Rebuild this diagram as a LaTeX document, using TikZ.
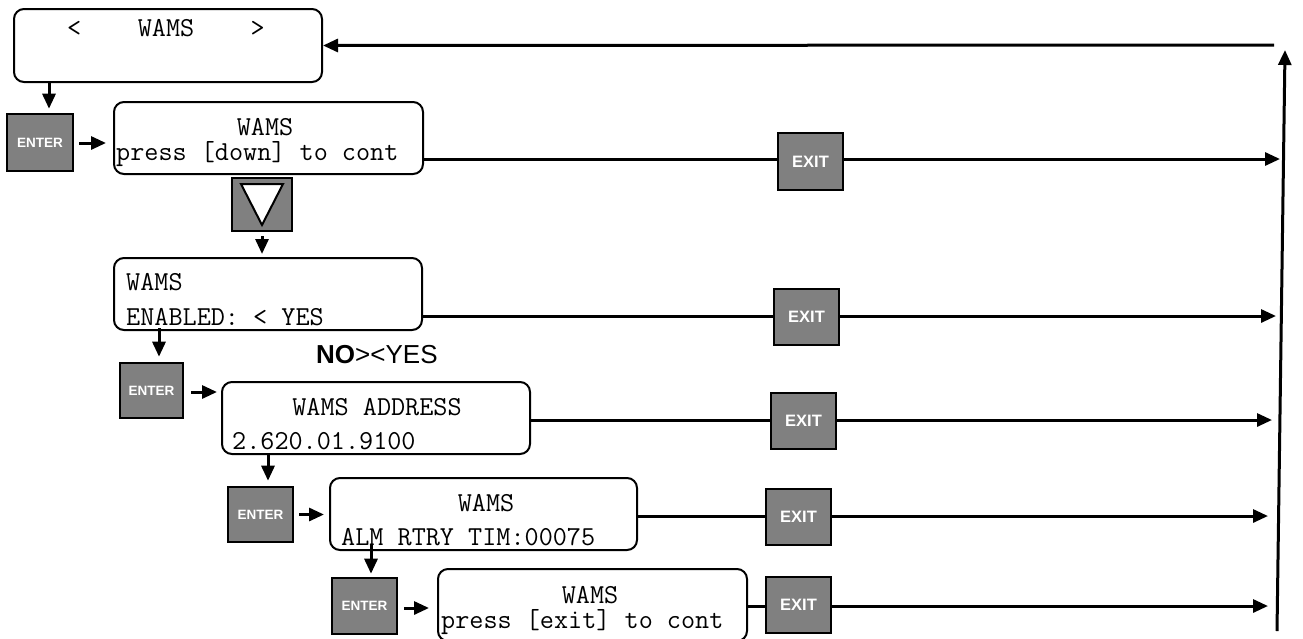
\documentclass[tikz,border=0pt]{standalone}
\usepackage{fontspec}
\setmainfont{Liberation Sans}
\usetikzlibrary{arrows.meta}
\definecolor{btngray}{HTML}{808080}
\begin{document}
\begin{tikzpicture}[x=1pt,y=-1pt,
  lcd/.style={draw, line width=2pt, rounded corners=10pt, inner sep=0pt},
  btn/.style={draw, line width=2.6pt, fill=btngray, inner sep=0pt, text=white},
  enterbtn/.style={btn, font=\fontsize{13.5}{13.5}\selectfont\bfseries},
  exitbtn/.style={btn, font=\fontsize{16.5}{16.5}\selectfont\bfseries},
  mono/.style={font=\fontsize{27.4}{27.4}\selectfont\ttfamily, inner sep=0pt},
  ln/.style={line width=3pt},
  arr/.style={line width=3pt, -{Triangle[length=15pt,width=13pt]}}
]
\useasboundingbox (0,0) rectangle (1303,638);

% LCD boxes
\node[lcd, minimum width=308pt, minimum height=73pt] (box1) at (168,45.5) {};
\node[lcd, minimum width=309pt, minimum height=72pt] (box2) at (268.5,138) {};
\node[lcd, minimum width=308pt, minimum height=72pt] (box3) at (268,294) {};
\node[lcd, minimum width=308pt, minimum height=72pt] (box4) at (376,418) {};
\node[lcd, minimum width=307pt, minimum height=72pt] (box5) at (483.5,514) {};
\node[lcd, minimum width=309pt, minimum height=72pt] (box6) at (592.5,605) {};

% texts
\node[mono, anchor=base] (t1) at (166,36) {<\ \ \ \ WAMS\ \ \ \ >};
\node[mono, anchor=base] (t2a) at (265,135) {WAMS};
\node[mono, anchor=base west] (t2b) at (116,160) {press [down] to cont};
\node[mono, anchor=base west] (t3a) at (126,290) {WAMS};
\node[mono, anchor=base west] (t3b) at (126,325) {ENABLED: < YES};
\node[mono, anchor=base] (t4a) at (377,415) {WAMS ADDRESS};
\node[mono, anchor=base west] (t4b) at (232,449) {2.620.01.9100};
\node[mono, anchor=base] (t5a) at (486,511) {WAMS};
\node[mono, anchor=base west] (t5b) at (341,545) {ALM RTRY TIM:00075};
\node[mono, anchor=base] (t6a) at (590,603) {WAMS};
\node[mono, anchor=base west] (t6b) at (441,628) {press [exit] to cont};
\node[inner sep=0pt, anchor=base west, font=\fontsize{26}{26}\selectfont] (noyes) at (316,363) {\textbf{NO}><YES};

% buttons
\node[enterbtn, minimum width=66pt, minimum height=57pt] (enter1) at (40,142.5) {ENTER};
\node[exitbtn, minimum width=65pt, minimum height=57pt] (exit2) at (810.5,161.5) {EXIT};
\node[btn, minimum width=60pt, minimum height=53pt] (down) at (262,204.5) {};
\draw[line width=2pt, fill=white] ([shift={(-21,-20.5)}]down.center) -- ([shift={(21,-20.5)}]down.center) -- ([shift={(0,20.5)}]down.center) -- cycle;
\node[exitbtn, minimum width=65pt, minimum height=56pt] (exit3) at (806.5,317) {EXIT};
\node[enterbtn, minimum width=63pt, minimum height=55pt] (enter3) at (151.5,390.5) {ENTER};
\node[exitbtn, minimum width=65pt, minimum height=56pt] (exit4) at (803.5,421) {EXIT};
\node[enterbtn, minimum width=65pt, minimum height=55pt] (enter4) at (260.5,514.5) {ENTER};
\node[exitbtn, minimum width=65pt, minimum height=56pt] (exit5) at (798.5,517) {EXIT};
\node[enterbtn, minimum width=65pt, minimum height=56pt] (enter5) at (364.5,606) {ENTER};
\node[exitbtn, minimum width=65pt, minimum height=56pt] (exit6) at (798.5,605) {EXIT};

% right side coordinates
\coordinate (r2) at (1280,159);
\coordinate (r3) at (1276,316);
\coordinate (r4) at (1272,420);
\coordinate (r5) at (1268,516);
\coordinate (r6) at (1268,606);
\coordinate (vb) at (1277,631);
\coordinate (vt) at (1285,50);
\coordinate (topstart) at (1274,45);

% vertical return and top arrow
\draw[arr] (vb) -- (vt);
\draw[arr] (topstart) -- (box1.east);

% downward / entering arrows
\draw[arr, shorten >=4pt] ([xshift=9pt]enter1.north |- box1.south) -- ([xshift=9pt]enter1.north);
\draw[arr, shorten <=5pt, shorten >=7pt] ([yshift=-0.5pt]enter1.east) -- ([yshift=-0.5pt]enter1.east -| box2.west);
\draw[arr, shorten <=4pt, shorten >=3pt] (down.south) -- (down.south |- box3.north);
\draw[arr, shorten <=-3pt, shorten >=5pt] ([xshift=7.5pt]enter3.north |- box3.south) -- ([xshift=7.5pt]enter3.north);
\draw[arr, shorten <=7pt, shorten >=4pt] ([yshift=-1.5pt]enter3.east) -- ([yshift=-1.5pt]enter3.east -| box4.west);
\draw[arr, shorten <=-2pt, shorten >=5pt] ([xshift=7.5pt]enter4.north |- box4.south) -- ([xshift=7.5pt]enter4.north);
\draw[arr, shorten <=5pt, shorten >=5pt] (enter4.east) -- (enter4.east -| box5.west);
\draw[arr, shorten <=-7pt, shorten >=3pt] ([xshift=6.5pt]enter5.north |- box5.south) -- ([xshift=6.5pt]enter5.north);
\draw[arr, shorten <=6pt, shorten >=8pt] ([yshift=-2pt]enter5.east) -- ([yshift=-2pt]enter5.east -| box6.west);

% exit rows
\draw[ln] (box2.east |- r2) -- (exit2.west |- r2);
\draw[arr] (exit2.east |- r2) -- (r2);
\draw[ln] (box3.east |- r3) -- (exit3.west |- r3);
\draw[arr] (exit3.east |- r3) -- (r3);
\draw[ln] (box4.east |- r4) -- (exit4.west |- r4);
\draw[arr] (exit4.east |- r4) -- (r4);
\draw[ln] (box5.east |- r5) -- (exit5.west |- r5);
\draw[arr] (exit5.east |- r5) -- (r5);
\draw[ln] (box6.east |- r6) -- (exit6.west |- r6);
\draw[arr] (exit6.east |- r6) -- (r6);
\end{tikzpicture}
\end{document}
